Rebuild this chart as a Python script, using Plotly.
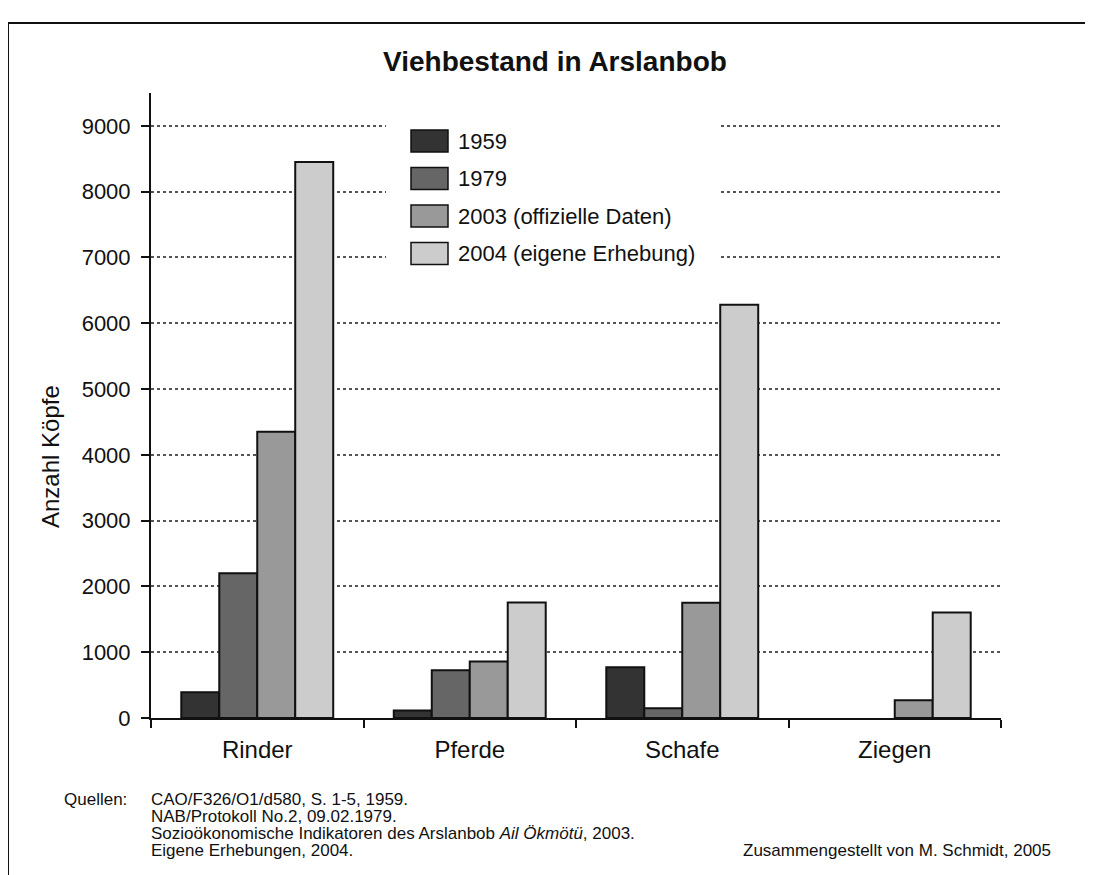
import plotly.graph_objects as go

categories = ["Rinder", "Pferde", "Schafe", "Ziegen"]
series_names = ["1959", "1979", "2003 (offizielle Daten)", "2004 (eigene Erhebung)"]
values_1959 = [390, 115, 770, None]
values_1979 = [2200, 725, 150, None]
values_2003 = [4350, 860, 1750, 270]
values_2004 = [8450, 1755, 6280, 1605]
series_values = [values_1959, values_1979, values_2003, values_2004]
colors = ["#333333", "#666666", "#999999", "#cccccc"]
y_ticks = [0, 1000, 2000, 3000, 4000, 5000, 6000, 7000, 8000, 9000]

title_text = "Viehbestand in Arslanbob"
y_title = "Anzahl Köpfe"
source_label = "Quellen:"
source_lines = [
    "CAO/F326/O1/d580, S. 1-5, 1959.",
    "NAB/Protokoll No.2, 09.02.1979.",
    "Sozioökonomische Indikatoren des Arslanbob <i>Ail Ökmötü</i>, 2003.",
    "Eigene Erhebungen, 2004.",
]
credit = "Zusammengestellt von M. Schmidt, 2005"

FONT = "Liberation Sans, Arial, Helvetica, sans-serif"
W, H = 1093, 875
OFF = 8  # page body margin
L, R, T, B = 143, 100, 85, 165
PW, PH = W - L - R, H - T - B


def px(x):
    return (x - OFF - L) / PW


def py(y):
    return (H - B - (y - OFF)) / PH


fig = go.Figure()
for name, vals, col in zip(series_names, series_values, colors):
    fig.add_trace(go.Bar(
        x=categories, y=vals, name=name,
        marker=dict(color=col, line=dict(color="#111111", width=2)),
        showlegend=False,
    ))

shapes = []
annotations = []

# outer frame
shapes.append(dict(type="rect", xref="paper", yref="paper",
                   x0=px(8), x1=px(1130), y0=py(23), y1=py(930),
                   line=dict(color="#111111", width=2), fillcolor="rgba(0,0,0,0)",
                   layer="below"))

# legend background
shapes.append(dict(type="rect", xref="paper", yref="paper",
                   x0=px(386), x1=px(718), y0=py(116), y1=py(285),
                   line=dict(width=0), fillcolor="white", layer="above"))

for i, (name, col) in enumerate(zip(series_names, colors)):
    yc = 141 + 37.5 * i
    shapes.append(dict(type="rect", xref="paper", yref="paper",
                       x0=px(411), x1=px(448), y0=py(yc - 11), y1=py(yc + 11),
                       line=dict(color="#111111", width=1.5), fillcolor=col,
                       layer="above"))
    annotations.append(dict(xref="paper", yref="paper", x=px(456), y=py(yc),
                            text=name, showarrow=False, xanchor="left",
                            yanchor="middle",
                            font=dict(family=FONT, size=22, color="#111111")))

# title
annotations.append(dict(xref="paper", yref="paper", x=px(555), y=py(62),
                        text="<b>" + title_text + "</b>", showarrow=False,
                        xanchor="center", yanchor="middle",
                        font=dict(family=FONT, size=28, color="#111111")))
# y title
annotations.append(dict(xref="paper", yref="paper", x=px(50), y=py(457),
                        text=y_title, showarrow=False, textangle=-90,
                        xanchor="center", yanchor="middle",
                        font=dict(family=FONT, size=24, color="#111111")))

# footer
annotations.append(dict(xref="paper", yref="paper", x=px(62), y=py(799),
                        text=source_label, showarrow=False, xanchor="left",
                        yanchor="middle",
                        font=dict(family=FONT, size=17, color="#111111")))
for i, line in enumerate(source_lines):
    annotations.append(dict(xref="paper", yref="paper", x=px(149), y=py(799 + 17 * i),
                            text=line, showarrow=False, xanchor="left",
                            yanchor="middle",
                            font=dict(family=FONT, size=17, color="#111111")))
annotations.append(dict(xref="paper", yref="paper", x=px(1053), y=py(850),
                        text=credit, showarrow=False, xanchor="right",
                        yanchor="middle",
                        font=dict(family=FONT, size=17, color="#111111")))

fig.update_layout(
    width=W, height=H, autosize=False,
    margin=dict(l=L, r=R, t=T, b=B, pad=0),
    paper_bgcolor="white", plot_bgcolor="white",
    barmode="group", bargap=0.285, bargroupgap=0,
    font=dict(family=FONT, color="#111111"),
    shapes=shapes, annotations=annotations,
    xaxis=dict(
        showline=True, linecolor="#111111", linewidth=2,
        ticks="outside", tickson="boundaries", ticklen=8, tickwidth=2,
        tickcolor="#111111", showgrid=False, zeroline=False,
        tickfont=dict(family=FONT, size=24, color="#111111"),
        ticklabelstandoff=9,
    ),
    yaxis=dict(
        range=[0, 9500], tickvals=y_ticks, ticktext=[str(v) for v in y_ticks],
        showline=True, linecolor="#111111", linewidth=2,
        ticks="outside", ticklen=8, tickwidth=2, tickcolor="#111111",
        showgrid=True, gridcolor="#555555", griddash="dot", gridwidth=1.5,
        zeroline=False,
        tickfont=dict(family=FONT, size=22, color="#111111"),
        ticklabelstandoff=6,
    ),
)

fig.write_html("out.html")
